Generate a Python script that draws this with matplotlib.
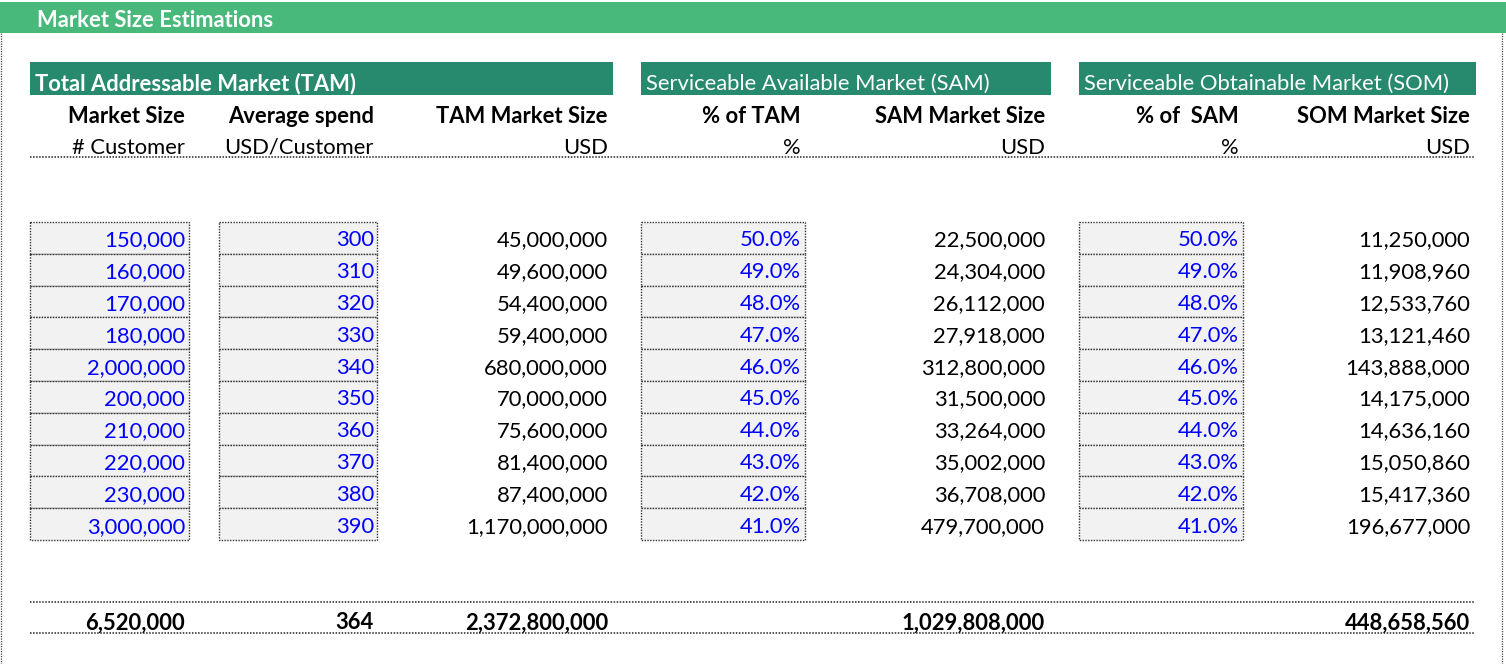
import matplotlib
matplotlib.use("Agg")
import matplotlib.pyplot as plt
from matplotlib.patches import Rectangle

# ---- data ----
title = "Market Size Estimations"
section_titles = ["Total Addressable Market (TAM)",
                  "Serviceable Available Market (SAM)",
                  "Serviceable Obtainable Market (SOM)"]
col_headers = ["Market Size", "Average spend", "TAM Market Size",
               "% of TAM", "SAM Market Size", "% of  SAM", "SOM Market Size"]
col_units = ["# Customer", "USD/Customer", "USD", "%", "USD", "%", "USD"]

customers = [150000, 160000, 170000, 180000, 2000000, 200000, 210000, 220000, 230000, 3000000]
avg_spend = [300, 310, 320, 330, 340, 350, 360, 370, 380, 390]
tam_size = [45000000, 49600000, 54400000, 59400000, 680000000, 70000000,
            75600000, 81400000, 87400000, 1170000000]
pct_tam = [50.0, 49.0, 48.0, 47.0, 46.0, 45.0, 44.0, 43.0, 42.0, 41.0]
sam_size = [22500000, 24304000, 26112000, 27918000, 312800000, 31500000,
            33264000, 35002000, 36708000, 479700000]
pct_sam = [50.0, 49.0, 48.0, 47.0, 46.0, 45.0, 44.0, 43.0, 42.0, 41.0]
som_size = [11250000, 11908960, 12533760, 13121460, 143888000, 14175000,
            14636160, 15050860, 15417360, 196677000]
totals = [6520000, 364, 2372800000, None, 1029808000, None, 448658560]

# ---- layout ----
W, H = 1506, 664
fig = plt.figure(figsize=(W / 100, H / 100), dpi=100)
ax = fig.add_axes([0, 0, 1, 1])
ax.set_xlim(0, W)
ax.set_ylim(H, 0)
ax.axis("off")

FONT = ["Lato", "DejaVu Sans"]
FS = 15.8
light_green = "#48B97B"
dark_green = "#278A6E"
blue = "#0000FF"
dot = (0, (1, 1))
DY = 1.8  # small vertical nudge for text centring

# title bar
ax.add_patch(Rectangle((0, 2), W, 31, color=light_green, lw=0))
ax.text(37, 19 + DY, title, color="white", fontsize=FS, fontweight="bold",
        family=FONT, va="center", ha="left")
# outer dotted borders
ax.plot([1, 1], [33, H], color="#444444", lw=0.9, ls=dot)
ax.plot([1502, 1502], [33, H], color="#444444", lw=0.9, ls=dot)

# section bars
sections = [(30, 613), (641, 1051), (1079, 1476)]
for (x0, x1), t in zip(sections, section_titles):
    ax.add_patch(Rectangle((x0, 62), x1 - x0, 33, color=dark_green, lw=0))
    ax.text(x0 + 5, 82 + DY, t, color="white", fontsize=FS,
            fontweight="bold" if t.startswith("Total") else "normal",
            family=FONT, va="center", ha="left")

col_right = [185, 374, 608, 801, 1045, 1239, 1470]
for xr, h, u in zip(col_right, col_headers, col_units):
    ax.text(xr, 115 + DY, h, fontsize=FS, fontweight="bold", family=FONT,
            va="center", ha="right")
    ax.text(xr, 146 + DY, u, fontsize=FS, family=FONT, va="center", ha="right")
ax.plot([30, 1475], [157, 157], color="#222222", lw=1.1, ls=dot)

# data rows
row_top = 222
row_h = 31.8
n = len(customers)
input_boxes = {0: (30, 189), 1: (219, 377), 3: (641, 805), 5: (1079, 1243)}

columns = [
    [f"{v:,}" for v in customers],
    [f"{v:,}" for v in avg_spend],
    [f"{v:,}" for v in tam_size],
    [f"{v:.1f}%" for v in pct_tam],
    [f"{v:,}" for v in sam_size],
    [f"{v:.1f}%" for v in pct_sam],
    [f"{v:,}" for v in som_size],
]

for c, (x0, x1) in input_boxes.items():
    for i in range(n):
        y0 = row_top + i * row_h
        ax.add_patch(Rectangle((x0, y0), x1 - x0, row_h, facecolor="#F2F2F2",
                               edgecolor="#333333", lw=1.0, ls=dot))

for c, vals in enumerate(columns):
    color = blue if c in input_boxes else "black"
    for i, s in enumerate(vals):
        yc = row_top + (i + 0.55) * row_h + 1
        ax.text(col_right[c], yc, s, fontsize=FS, family=FONT, color=color,
                va="center", ha="right")

# totals
ax.plot([30, 1475], [602, 602], color="#222222", lw=1.1, ls=dot)
ax.plot([30, 1475], [633, 633], color="#222222", lw=1.1, ls=dot)
for c, v in enumerate(totals):
    if v is None:
        continue
    ax.text(col_right[c], 621 + DY, f"{v:,}", fontsize=FS, fontweight="bold",
            family=FONT, va="center", ha="right")

fig.savefig("out.png", dpi=100, facecolor="white")
